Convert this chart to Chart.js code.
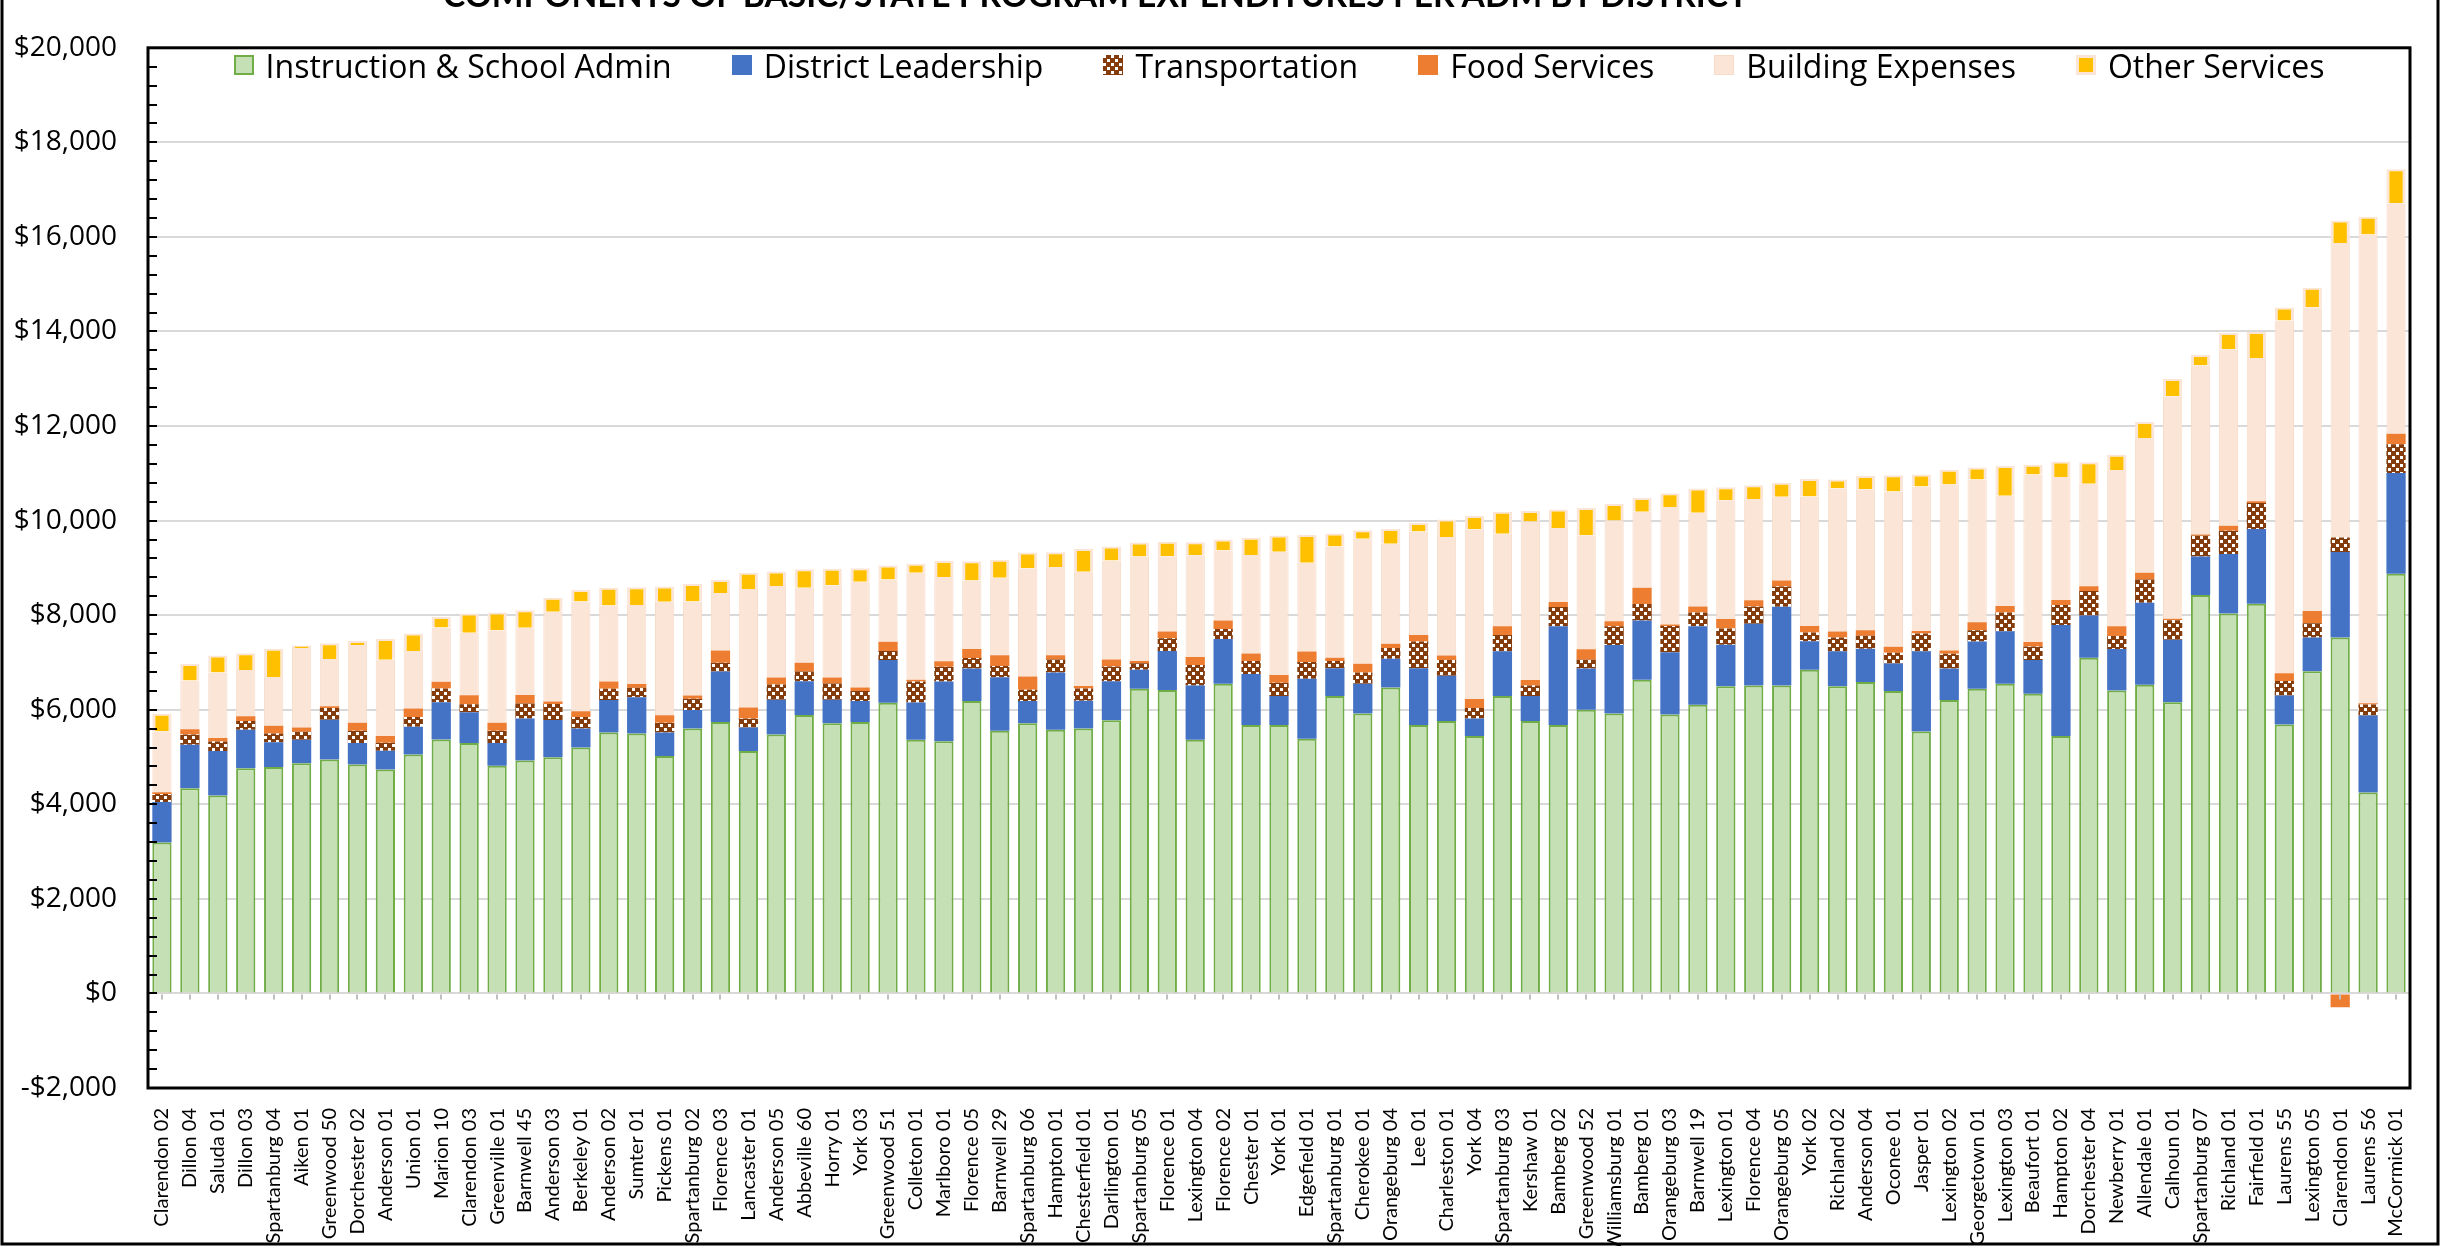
<!DOCTYPE html>
<html>
<head>
<meta charset="utf-8">
<script src="https://cdn.jsdelivr.net/npm/chart.js@4.4.1/dist/chart.umd.min.js"></script>
<style>
  html, body { margin: 0; padding: 0; background: #fff; overflow: hidden; }
  #wrap { position: relative; width: 2440px; height: 1246px; }
  #chart { position: absolute; left: 0; top: 0; }
  #title {
    position: absolute; left: 443px; top: -23px; white-space: nowrap;
    font: bold 33.6px Lato, sans-serif; line-height: 34px; color: #000;
  }
  #legend {
    position: absolute; left: 148px; width: 2262px; top: 45px; height: 40px;
    display: flex; justify-content: center; align-items: center; gap: 60px;
    font: 32px "Open Sans", sans-serif; color: #000;
  }
  .item { display: flex; align-items: center; gap: 12px; white-space: nowrap; }
  .box { width: 20px; height: 20px; box-sizing: border-box; }
</style>
</head>
<body>
<div id="wrap">
  <canvas id="chart" width="2440" height="1246"></canvas>
  <div id="title">COMPONENTS OF BASIC/STATE PROGRAM EXPENDITURES PER ADM BY DISTRICT</div>
  <div id="legend"></div>
</div>
<script>
// ---------- DATOS ----------
const districts = ['Clarendon 02','Dillon 04','Saluda 01','Dillon 03','Spartanburg 04','Aiken 01','Greenwood 50','Dorchester 02','Anderson 01','Union 01',
  'Marion 10','Clarendon 03','Greenville 01','Barnwell 45','Anderson 03','Berkeley 01','Anderson 02','Sumter 01','Pickens 01','Spartanburg 02',
  'Florence 03','Lancaster 01','Anderson 05','Abbeville 60','Horry 01','York 03','Greenwood 51','Colleton 01','Marlboro 01','Florence 05',
  'Barnwell 29','Spartanburg 06','Hampton 01','Chesterfield 01','Darlington 01','Spartanburg 05','Florence 01','Lexington 04','Florence 02','Chester 01',
  'York 01','Edgefield 01','Spartanburg 01','Cherokee 01','Orangeburg 04','Lee 01','Charleston 01','York 04','Spartanburg 03','Kershaw 01',
  'Bamberg 02','Greenwood 52','Williamsburg 01','Bamberg 01','Orangeburg 03','Barnwell 19','Lexington 01','Florence 04','Orangeburg 05','York 02',
  'Richland 02','Anderson 04','Oconee 01','Jasper 01','Lexington 02','Georgetown 01','Lexington 03','Beaufort 01','Hampton 02','Dorchester 04',
  'Newberry 01','Allendale 01','Calhoun 01','Spartanburg 07','Richland 01','Fairfield 01','Laurens 55','Lexington 05','Clarendon 01','Laurens 56',
  'McCormick 01'];

const seriesNames = ['Instruction & School Admin', 'District Leadership', 'Transportation', 'Food Services', 'Building Expenses', 'Other Services'];

const instruction = [
  3190,4340,4185,4760,4790,4870,4950,4840,4735,5055,
  5370,5295,4815,4925,4995,5200,5520,5495,5020,5605,
  5740,5130,5475,5890,5715,5740,6150,5365,5335,6185,
  5555,5715,5575,5605,5780,6445,6415,5365,6550,5680,
  5680,5385,6290,5920,6470,5680,5760,5445,6290,5760,
  5680,6000,5920,6635,5900,6105,6495,6515,6515,6845,
  6495,6585,6395,5540,6205,6445,6550,6340,5445,7100,
  6405,6530,6160,8425,8035,8240,5690,6815,7530,4250,
  8875];

const leadership = [
  860,920,945,815,525,495,840,455,400,585,
  790,650,480,890,790,405,685,770,500,390,
  1070,495,735,715,495,445,900,790,1260,685,
  1130,470,1215,585,825,400,825,1150,945,1075,
  610,1270,585,630,610,1195,960,370,945,530,
  2085,870,1450,1255,1315,1660,880,1305,1665,605,
  740,705,585,1695,665,1000,1110,710,2345,895,
  880,1735,1320,815,1260,1585,610,715,1805,1630,
  2130];

const transportation = [
  170,215,200,185,185,170,245,260,165,205,
  290,170,260,315,335,240,240,200,205,235,
  185,190,325,205,345,210,190,445,315,225,
  240,240,275,260,310,140,270,430,215,275,
  280,355,155,240,225,570,330,220,345,225,
  410,190,395,345,555,290,345,365,425,185,
  295,275,225,375,315,235,395,290,425,515,
  275,490,415,440,490,545,310,300,310,230,
  610];

const food = [
  35,115,75,100,160,90,40,170,145,180,
  140,190,170,180,55,125,150,80,160,70,
  260,235,145,185,125,75,200,35,115,190,
  225,280,90,50,150,45,145,170,175,160,
  165,220,70,185,90,135,95,190,185,115,
  105,220,105,345,35,130,200,130,130,135,
  125,115,125,55,70,170,140,95,105,100,
  205,140,30,25,105,40,160,260,-290,30,
  220];

const building = [
  1290,1030,1385,980,1030,1680,1000,1645,1610,1215,
  1150,1325,1955,1425,1900,2320,1610,1670,2400,1990,
  1215,2505,1935,1585,1955,2235,1315,2265,1785,1450,
  1640,2290,1865,2420,2090,2210,1590,2155,1490,2085,
  2605,1880,2355,2640,2115,2190,2510,3595,1955,3350,
  1565,2410,2135,1610,2485,1980,2510,2140,1770,2740,
  3030,2985,3285,3055,3510,3020,2330,3540,2605,2170,
  3305,2850,4705,3580,3735,3030,7460,6425,6225,9910,
  4875];

const other = [
  370,345,355,355,600,55,330,85,440,375,
  220,405,375,370,295,240,375,375,320,370,
  275,345,310,390,345,290,295,190,335,405,
  385,330,310,480,295,295,310,275,225,365,
  345,585,275,180,315,180,370,280,465,225,
  390,575,345,290,290,515,275,295,295,370,
  185,280,345,255,310,255,630,205,325,455,
  325,340,365,220,345,550,275,410,480,375,
  720];

const yMin = -2000, yMax = 20000, yStep = 2000, yMinorStep = 400;

// ---------- PATRON TRANSPORTE ----------
function makeChecker() {
  const c = document.createElement('canvas');
  c.width = 8; c.height = 8;
  const g = c.getContext('2d');
  g.fillStyle = '#843C0C';
  g.fillRect(0, 0, 8, 8);
  g.fillStyle = '#FFFFFF';
  g.fillRect(0, 0, 3, 3);
  g.fillRect(4, 4, 3, 3);
  return c;
}
const checkerCanvas = makeChecker();
const ctx = document.getElementById('chart').getContext('2d');
const checker = ctx.createPattern(checkerCanvas, 'repeat');

// ---------- MARCOS Y MARCAS ----------
const framePlugin = {
  id: 'frame',
  afterDraw(chart) {
    const { ctx, chartArea: a, scales: { x, y } } = chart;
    ctx.save();
    // marcas menores hacia dentro en el eje Y
    ctx.strokeStyle = '#000';
    ctx.lineWidth = 2;
    for (let v = yMin; v <= yMax; v += yMinorStep) {
      const py = Math.round(y.getPixelForValue(v));
      ctx.beginPath();
      ctx.moveTo(a.left, py);
      ctx.lineTo(a.left + 9, py);
      ctx.stroke();
    }
    // marcas pequeñas bajo la línea de cero
    ctx.strokeStyle = '#BFBFBF';
    ctx.lineWidth = 2;
    const y0 = y.getPixelForValue(0);
    districts.forEach((d, i) => {
      const px = Math.round(x.getPixelForValue(i));
      ctx.beginPath();
      ctx.moveTo(px, y0 + 1);
      ctx.lineTo(px, y0 + 6);
      ctx.stroke();
    });
    // marco del área de trazado
    ctx.strokeStyle = '#000';
    ctx.lineWidth = 3;
    ctx.strokeRect(a.left, a.top, a.right - a.left, a.bottom - a.top);
    // marco exterior (arriba queda cortado)
    const W = chart.width, H = chart.height;
    ctx.beginPath();
    ctx.moveTo(2, 0); ctx.lineTo(2, H - 2); ctx.lineTo(W - 2, H - 2); ctx.lineTo(W - 2, 0);
    ctx.stroke();
    ctx.restore();
  }
};

const colors = ['#C5E0B4', '#4472C4', checker, '#ED7D31', '#FBE5D6', '#FFC000'];
const borders = ['#70AD47', '#4472C4', '#843C0C', '#ED7D31', '#F8DCC9', '#FBE5D6'];
const values = [instruction, leadership, transportation, food, building, other];

const datasets = seriesNames.map((name, i) => ({
  label: name,
  data: values[i],
  backgroundColor: colors[i],
  borderColor: borders[i],
  borderWidth: i === 0 ? 2 : i === 5 ? { top: 2, left: 3, right: 3, bottom: 0 } : i === 4 ? { top: 0, left: 1, right: 1, bottom: 0 } : 0,
  borderSkipped: i === 5 ? false : 'start',
  barPercentage: 0.69,
  categoryPercentage: 1
}));

const chart = new Chart(ctx, {
  type: 'bar',
  data: { labels: districts, datasets: datasets },
  options: {
    responsive: false,
    animation: false,
    devicePixelRatio: 1,
    layout: { padding: { top: 18, right: 30, bottom: 0, left: 0 } },
    plugins: {
      legend: { display: false },
      tooltip: { enabled: false },
      title: { display: false }
    },
    scales: {
      x: {
        stacked: true,
        grid: { display: false },
        border: { display: false },
        ticks: {
          autoSkip: false,
          maxRotation: 90,
          minRotation: 90,
          padding: 12,
          color: '#000',
          font: { family: 'Lato', size: 20 }
        },
        afterFit(scale) { scale.height = 158; }
      },
      y: {
        stacked: true,
        min: yMin,
        max: yMax,
        grid: { color: '#D9D9D9', lineWidth: 2, drawTicks: false },
        border: { display: false },
        ticks: {
          stepSize: yStep,
          padding: 31,
          color: '#000',
          font: { family: 'Open Sans', size: 28 },
          callback: v => (v < 0 ? '-$' : '$') + Math.abs(v).toLocaleString('en-US')
        },
        afterFit(scale) { scale.width = 148; }
      }
    }
  },
  plugins: [framePlugin]
});

// ---------- LEYENDA ----------
const legend = document.getElementById('legend');
const checkerUrl = checkerCanvas.toDataURL();
chart.data.datasets.forEach((ds, i) => {
  const item = document.createElement('div');
  item.className = 'item';
  const box = document.createElement('div');
  box.className = 'box';
  if (i === 2) {
    box.style.backgroundImage = 'url(' + checkerUrl + ')';
  } else {
    box.style.background = ds.backgroundColor;
  }
  if (i === 0) box.style.border = '2px solid #70AD47';
  if (i === 5) box.style.border = '3px solid #FBE5D6';
  if (i === 4) box.style.border = '1px solid #F8DCC9';
  const label = document.createElement('span');
  label.textContent = ds.label;
  item.appendChild(box);
  item.appendChild(label);
  legend.appendChild(item);
});
</script>
</body>
</html>
